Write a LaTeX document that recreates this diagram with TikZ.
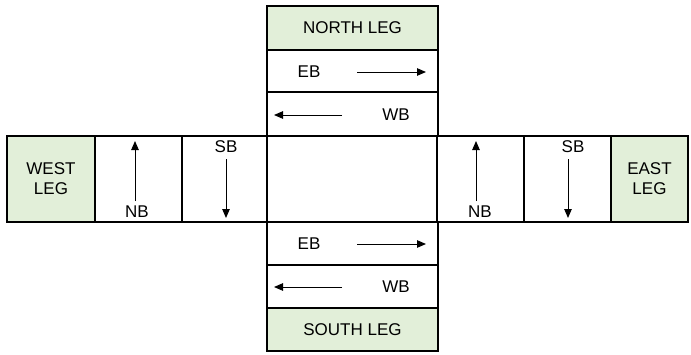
\documentclass[tikz,border=0pt]{standalone}
\usepackage{fontspec}
\setmainfont{Liberation Sans}
\usetikzlibrary{arrows.meta}
\definecolor{leggreen}{HTML}{E2EFD9}
\begin{document}
\begin{tikzpicture}[x=1pt,y=-1pt,
  cell/.style={draw=black,line width=1.4pt,inner sep=0pt,minimum width=#1},
  legcell/.style={cell=#1,fill=leggreen},
  lbl/.style={font=\fontsize{17}{20}\selectfont,inner sep=0pt},
  flow/.style={line width=1pt,-{Triangle[length=9pt,width=7.5pt]}}]
\useasboundingbox (0,0) rectangle (691,354);
% vertical column
\node[legcell=171pt,minimum height=44pt] (north) at (352.5,28) {};
\node[cell=171pt,minimum height=42pt] (nEB) at (352.5,71) {};
\node[cell=171pt,minimum height=44pt] (nWB) at (352.5,114) {};
\node[cell=171pt,minimum height=43pt] (sEB) at (352.5,243.5) {};
\node[cell=171pt,minimum height=43pt] (sWB) at (352.5,286.5) {};
\node[legcell=171pt,minimum height=43pt] (south) at (352.5,329.5) {};
% horizontal row
\node[legcell=88pt,minimum height=86pt] (west) at (51,179) {};
\node[cell=87pt,minimum height=86pt] (wNB) at (138.5,179) {};
\node[cell=85pt,minimum height=86pt] (wSB) at (224.5,179) {};
\node[cell=170pt,minimum height=86pt] (mid) at (352,179) {};
\node[cell=87pt,minimum height=86pt] (eNB) at (480.5,179) {};
\node[cell=87pt,minimum height=86pt] (eSB) at (567.5,179) {};
\node[legcell=77pt,minimum height=86pt] (east) at (649.5,179) {};
% labels
\node[lbl] (tNorth) at (north) {NORTH LEG};
\node[lbl] (tSouth) at (south) {SOUTH LEG};
\node[lbl,align=center] (tWest) at (west) {WEST\\LEG};
\node[lbl,align=center] (tEast) at (east) {EAST\\LEG};
\node[lbl] (tnEB) at (309,72) {EB};
\node[lbl] (tnWB) at (396,115) {WB};
\node[lbl] (tsEB) at (309,244) {EB};
\node[lbl] (tsWB) at (396,287) {WB};
\node[lbl] (twNB) at (137,212) {NB};
\node[lbl] (twSB) at (226,147) {SB};
\node[lbl] (teNB) at (480,212) {NB};
\node[lbl] (teSB) at (573,147) {SB};
% arrow coordinates
\coordinate (a1s) at (357,72); \coordinate (a1e) at (426,72);
\coordinate (a2s) at (342,115); \coordinate (a2e) at (274,115);
\coordinate (a3s) at (357,244); \coordinate (a3e) at (426,244);
\coordinate (a4s) at (342,287); \coordinate (a4e) at (274,287);
\coordinate (a5s) at (135,201); \coordinate (a5e) at (135,141);
\coordinate (a6s) at (226,159); \coordinate (a6e) at (226,218);
\coordinate (a7s) at (476,201); \coordinate (a7e) at (476,141);
\coordinate (a8s) at (568,159); \coordinate (a8e) at (568,218);
\draw[flow] (a1s) -- (a1e);
\draw[flow] (a2s) -- (a2e);
\draw[flow] (a3s) -- (a3e);
\draw[flow] (a4s) -- (a4e);
\draw[flow] (a5s) -- (a5e);
\draw[flow] (a6s) -- (a6e);
\draw[flow] (a7s) -- (a7e);
\draw[flow] (a8s) -- (a8e);
\end{tikzpicture}
\end{document}
